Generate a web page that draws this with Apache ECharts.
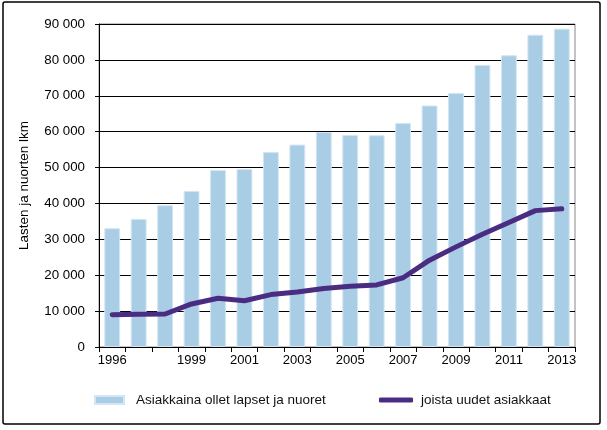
<!DOCTYPE html>
<html><head><meta charset="utf-8">
<script src="https://cdn.jsdelivr.net/npm/echarts@6/dist/echarts.min.js"></script>
<style>html,body{margin:0;padding:0;background:#fff}#c{width:607px;height:430px}</style>
</head><body><div id="c"></div>
<script>
const categories = ["1996","1997","1998","1999","2000","2001","2002","2003","2004","2005","2006","2007","2008","2009","2010","2011","2012","2013"];
const tickLabels = ["1996","","","1999","","2001","","2003","","2005","","2007","","2009","","2011","","2013"];
const barValues = [33100,35700,39500,43500,49300,49600,54300,56400,59900,59100,59000,62400,67300,70800,78600,81300,87000,88700];
const lineValues = [9000,9100,9200,12000,13600,12900,14600,15300,16300,16900,17300,19300,24200,27900,31400,34700,38000,38500];
const yTicks = [0,10000,20000,30000,40000,50000,60000,70000,80000,90000];
const barName = "Asiakkaina ollet lapset ja nuoret";
const lineName = "joista uudet asiakkaat";
const yName = "Lasten ja nuorten lkm";

const chart = echarts.init(document.getElementById('c'), null, {renderer:'canvas'});
const fmt = v => String(v).replace(/\B(?=(\d{3})+(?!\d))/g, ' ');
const legendText = {fontSize:13.5,color:'#111'};
chart.setOption({
  animation:false,
  textStyle:{fontFamily:'Liberation Sans, Arial, sans-serif'},
  graphic:[{type:'rect',shape:{x:3,y:2,width:597,height:422,r:2},style:{fill:'none',stroke:'#000',lineWidth:1.5},z:-1}],
  grid:{left:99,right:32,top:24,bottom:83,show:true,borderColor:'#888',borderWidth:1,backgroundColor:'transparent'},
  legend:[
    {left:94,top:393,padding:0,itemWidth:29,itemHeight:8,
     textStyle:Object.assign({padding:[0,0,0,7]},legendText),
     data:[{name:barName,icon:'rect',itemStyle:{color:'#a9cde5'}}]},
    {left:379,top:393,padding:0,itemWidth:34,itemHeight:5,
     textStyle:Object.assign({padding:[0,0,0,3]},legendText),
     data:[{name:lineName,icon:'roundRect',itemStyle:{color:'#4b2c83'}}]}
  ],
  xAxis:{
    type:'category',data:categories,boundaryGap:true,
    axisLine:{lineStyle:{color:'#000',width:1}},
    axisTick:{show:true,interval:0,length:5,alignWithLabel:false,lineStyle:{color:'#000'}},
    axisLabel:{interval:0,color:'#000',fontSize:13,margin:7,formatter:(v,i)=>tickLabels[i]}
  },
  yAxis:{
    type:'value',min:yTicks[0],max:yTicks[yTicks.length-1],interval:10000,
    name:yName,nameLocation:'middle',nameGap:68,nameRotate:90,
    nameTextStyle:{color:'#000',fontSize:13.5},
    axisLine:{show:true,lineStyle:{color:'#000'}},
    axisTick:{show:true,length:4,lineStyle:{color:'#000'}},
    splitLine:{show:true,lineStyle:{color:'#000',width:1}},
    axisLabel:{color:'#000',fontSize:13.3,margin:14,formatter:v=>fmt(v)}
  },
  series:[
    {name:barName,type:'bar',data:barValues,barWidth:'60%',
     itemStyle:{color:'#a9cde5',borderColor:'#d4e6f3',borderWidth:1}},
    {name:lineName,type:'line',data:lineValues,showSymbol:false,symbol:'none',
     lineStyle:{color:'#4b2c83',width:5,cap:'round',join:'round'},itemStyle:{color:'#4b2c83'},z:5}
  ]
});
</script></body></html>
